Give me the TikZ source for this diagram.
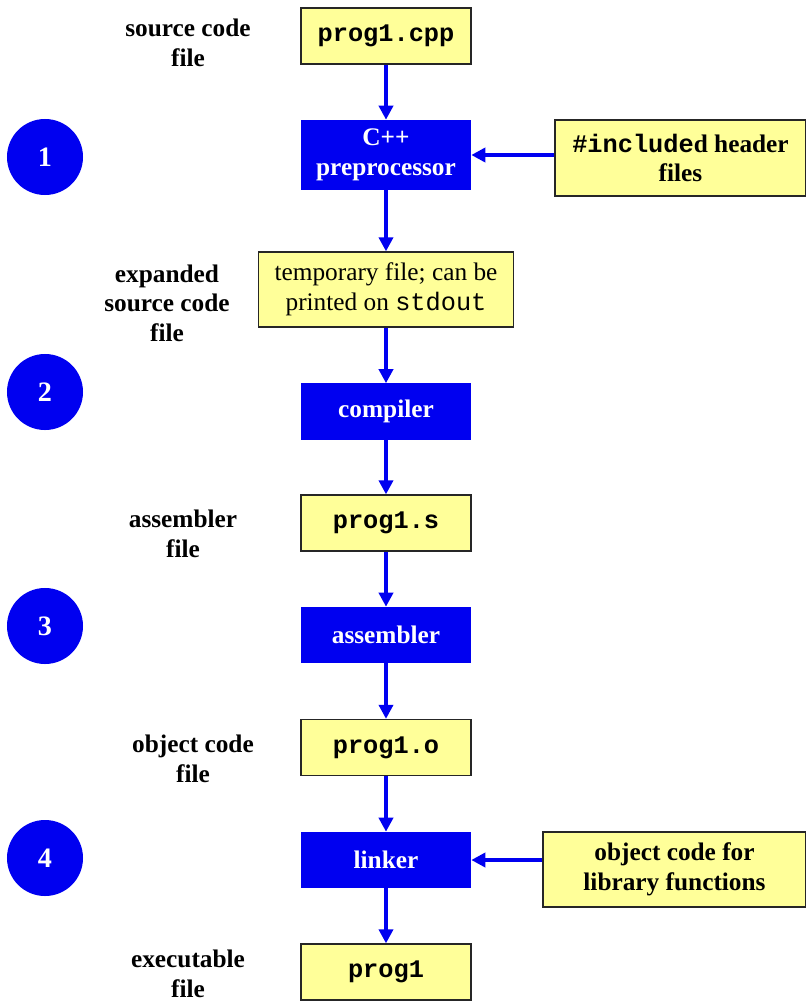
\documentclass[tikz,border=0pt]{standalone}
\usepackage{fontspec}
\setmainfont{Liberation Serif}
\setmonofont{Liberation Mono}
\usetikzlibrary{arrows.meta}
\definecolor{stepblue}{RGB}{0,0,240}
\definecolor{fileyellow}{RGB}{255,255,153}

\begin{document}
\begin{tikzpicture}[x=0.025cm,y=-0.025cm,
    every node/.style={font=\fontsize{18}{21}\selectfont\bfseries},
    FileStyle/.style={draw=black!85, line width=0.9pt, fill=fileyellow,
      minimum width=4.25cm, minimum height=1.4cm, align=center},
    ToolStyle/.style={fill=stepblue, text=white,
      minimum width=4.25cm, minimum height=1.4cm, align=center},
    StepStyle/.style={circle, fill=stepblue, text=white, minimum size=1.9cm,
      font=\fontsize{20}{24}\selectfont\bfseries},
    LabelStyle/.style={align=center},
    EdgeStyle/.style={draw=stepblue, line width=2.6pt,
      -{Triangle[length=10pt,width=10pt]}}]
        \useasboundingbox (0,0) rectangle (806,1006);
        % files
        \node[FileStyle] (cpp) at (386,36) {\texttt{prog1.cpp}};
        \node[FileStyle, minimum width=6.375cm, minimum height=1.875cm,
          font=\fontsize{18}{21}\selectfont] (tmp) at (386,289.5)
          {temporary file; can be\\printed on \texttt{stdout}};
        \node[FileStyle] (asm) at (386,523) {\texttt{prog1.s}};
        \node[FileStyle] (obj) at (386,747.5) {\texttt{prog1.o}};
        \node[FileStyle] (exe) at (386,972) {\texttt{prog1}};
        \node[FileStyle, minimum width=6.275cm, minimum height=1.9cm] (hdr) at (680.5,158)
          {\texttt{\#include}d header\\files};
        \node[FileStyle, minimum width=6.575cm, minimum height=1.875cm] (lib) at (674.5,869.5)
          {object code for\\library functions};
        % tools
        \node[ToolStyle, minimum height=1.75cm] (pre) at (386,155) {C++\\preprocessor};
        \node[ToolStyle] (comp) at (386,411.5) {compiler};
        \node[ToolStyle] (assem) at (386,635) {assembler};
        \node[ToolStyle] (link) at (386,860) {linker};
        % steps
        \node[StepStyle] (s1) at (45,157) {1};
        \node[StepStyle] (s2) at (45,392) {2};
        \node[StepStyle] (s3) at (45,626) {3};
        \node[StepStyle] (s4) at (45,858) {4};
        % labels
        \node[LabelStyle] (lcpp) at (188,43) {source code\\file};
        \node[LabelStyle] (ltmp) at (167,303) {expanded\\source code\\file};
        \node[LabelStyle] (lasm) at (183,534) {assembler\\file};
        \node[LabelStyle] (lobj) at (193,759) {object code\\file};
        \node[LabelStyle] (lexe) at (188,974) {executable\\file};
        % vertical edges
        \draw[EdgeStyle] (cpp) -- (pre);
        \draw[EdgeStyle] (pre) -- (tmp);
        \draw[EdgeStyle] (tmp) -- (comp);
        \draw[EdgeStyle] (comp) -- (asm);
        \draw[EdgeStyle] (asm) -- (assem);
        \draw[EdgeStyle] (assem) -- (obj);
        \draw[EdgeStyle] (obj) -- (link);
        \draw[EdgeStyle] (link) -- (exe);
        % horizontal edges
        \draw[EdgeStyle] (hdr.west |- pre) -- (pre.east);
        \draw[EdgeStyle] (lib.west |- link) -- (link.east);
\end{tikzpicture}
\end{document}
